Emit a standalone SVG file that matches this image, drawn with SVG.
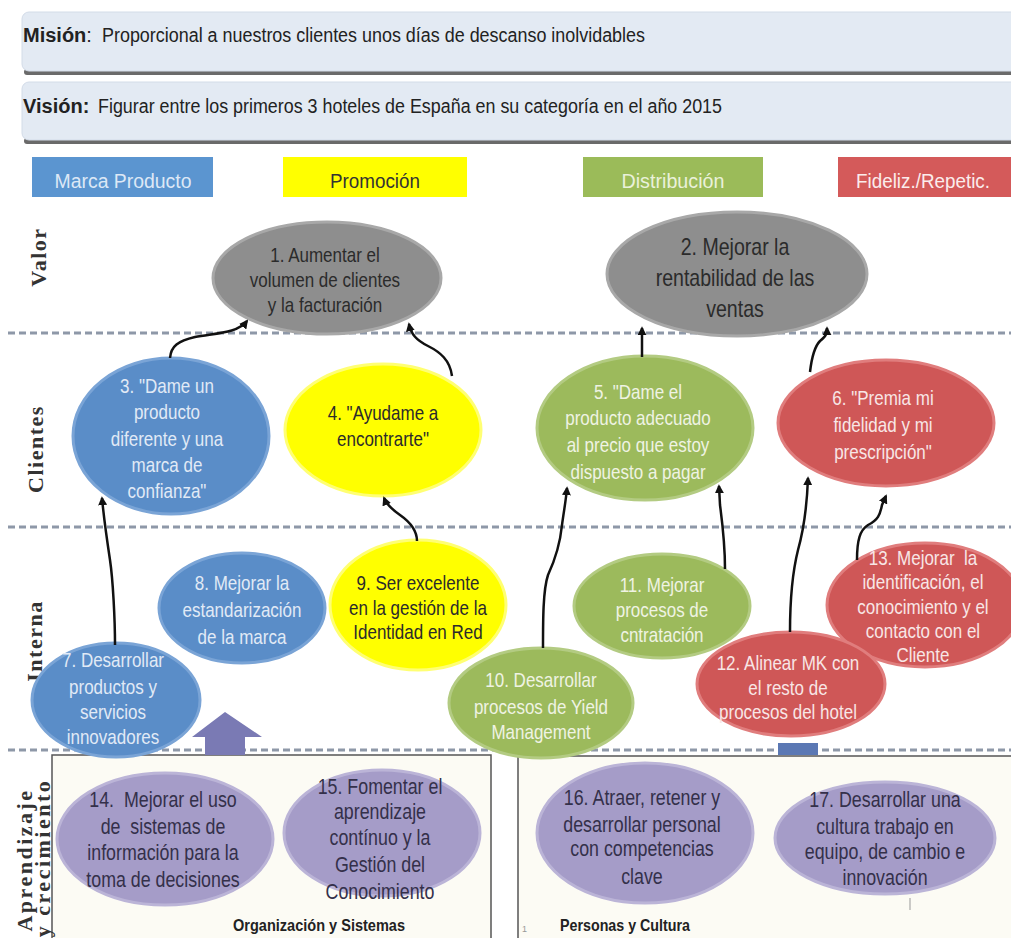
<svg xmlns="http://www.w3.org/2000/svg" width="1011" height="938" viewBox="0 0 1011 938">
  <style>
    .t { font-family: "Liberation Sans", Arial, sans-serif; text-anchor: middle; font-size: 21px; }
    .band { fill: #e3eaf3; stroke: #d3dce8; stroke-width: 1; }
    .shadow { fill: #6a6a6a; }
    .bt { font-family: "Liberation Sans", Arial, sans-serif; font-size: 20px; fill: #222; }
    .hdr { font-family: "Liberation Sans", Arial, sans-serif; font-size: 20px; text-anchor: middle; }
    .lane { font-family: "Liberation Serif", "Times New Roman", serif; font-weight: bold; font-size: 22px; fill: #333; text-anchor: middle; letter-spacing: 1.5px; }
    .sep { stroke: #8e98a8; stroke-width: 3; stroke-dasharray: 7 4; fill: none; }
    .gray { fill: #8e8e8e; stroke: #a8a8a8; stroke-width: 3; }
    .blue { fill: #5a8dc8; stroke: #7aa4d6; stroke-width: 3; }
    .yellow { fill: #ffff00; stroke: #ffff73; stroke-width: 3; }
    .green { fill: #9cba5c; stroke: #b3cb82; stroke-width: 3; }
    .red { fill: #cf5757; stroke: #e07d7d; stroke-width: 3; }
    .purple { fill: #a59cc8; stroke: #bbb4d7; stroke-width: 3; }
    .dark { fill: #2b2b2b; }
    .light { fill: #e1eaf6; }
    .lightg { fill: #eff3e3; }
    .lightr { fill: #f8e6e6; }
    .purp { fill: #34304a; font-size: 22px; }
    .conn { stroke: #111; stroke-width: 2.5; fill: none; marker-end: url(#ah); }
    .box { fill: #fcfbf4; stroke: #555; stroke-width: 1.5; }
    .foot { font-family: "Liberation Sans", Arial, sans-serif; font-weight: bold; font-size: 17px; fill: #222; }
  </style>
  <defs>
    <marker id="ah" viewBox="0 0 10 10" refX="8" refY="5" markerWidth="9" markerHeight="9" markerUnits="userSpaceOnUse" orient="auto">
      <path d="M0,0 L10,5 L0,10 z" fill="#111"/>
    </marker>
  </defs>

  <rect width="1011" height="938" fill="#ffffff"/>

  <!-- mission / vision bands -->
  <g id="mision">
    <rect class="shadow" x="24" y="69" width="1000" height="6" rx="3"/>
    <rect class="band" x="22" y="12" width="1000" height="59" rx="7"/>
    <text class="bt" x="23" y="42"><tspan font-weight="bold">Misión</tspan>:</text>
    <text class="bt" x="102" y="42" textLength="543" lengthAdjust="spacingAndGlyphs">Proporcional a nuestros clientes unos días de descanso inolvidables</text>
  </g>
  <g id="vision">
    <rect class="shadow" x="24" y="138" width="1000" height="6" rx="3"/>
    <rect class="band" x="22" y="82" width="1000" height="58" rx="7"/>
    <text class="bt" x="23" y="113" font-weight="bold">Visión:</text>
    <text class="bt" x="98" y="113" textLength="624" lengthAdjust="spacingAndGlyphs">Figurar entre los primeros 3 hoteles de España en su categoría en el año 2015</text>
  </g>

  <!-- column headers -->
  <g id="h-marca">
    <rect x="32" y="157" width="181" height="40" fill="#5b95d0"/>
    <text class="hdr" x="123" y="188" textLength="137" lengthAdjust="spacingAndGlyphs" fill="#dde8f6">Marca Producto</text>
  </g>
  <g id="h-promo">
    <rect x="283" y="157" width="184" height="40" fill="#ffff00"/>
    <text class="hdr" x="375" y="188" textLength="90" lengthAdjust="spacingAndGlyphs" fill="#333">Promoción</text>
  </g>
  <g id="h-dist">
    <rect x="583" y="157" width="180" height="40" fill="#9bbb59"/>
    <text class="hdr" x="673" y="188" textLength="103" lengthAdjust="spacingAndGlyphs" fill="#eaf1da">Distribución</text>
  </g>
  <g id="h-fideliz">
    <rect x="838" y="157" width="173" height="40" fill="#d45a5a"/>
    <text class="hdr" x="923" y="188" textLength="134" lengthAdjust="spacingAndGlyphs" fill="#fbecec">Fideliz./Repetic.</text>
  </g>

  <!-- lane separators -->
  <g id="separators">
    <line class="sep" x1="8" y1="333" x2="1011" y2="333"/>
    <line class="sep" x1="8" y1="527" x2="1011" y2="527"/>
    <line class="sep" x1="8" y1="750" x2="1011" y2="750"/>
  </g>

  <!-- learning area boxes -->
  <g id="org-box">
    <rect class="box" x="52" y="755" width="439" height="200"/>
    <text class="foot" x="319" y="931" text-anchor="middle" textLength="172" lengthAdjust="spacingAndGlyphs">Organización y Sistemas</text>
  </g>
  <g id="people-box">
    <rect class="box" x="518" y="756" width="510" height="200"/>
    <text class="foot" x="560" y="931" textLength="130" lengthAdjust="spacingAndGlyphs">Personas y Cultura</text>
    <text x="522" y="932" style="font-family:'Liberation Sans',sans-serif;font-size:9px;fill:#999">1</text>
    <line x1="910" y1="898" x2="910" y2="910" stroke="#999" stroke-width="1"/>
  </g>

  <!-- lane labels -->
  <g id="lanes">
    <text class="lane" transform="translate(46,257) rotate(-90)">Valor</text>
    <text class="lane" transform="translate(43,449) rotate(-90)">Clientes</text>
    <text class="lane" transform="translate(42,641) rotate(-90)">Interna</text>
    <text class="lane" transform="translate(32,860) rotate(-90)" style="letter-spacing:2.5px">Aprendizaje</text>
    <text class="lane" transform="translate(50,858) rotate(-90)" style="letter-spacing:2.5px">y crecimiento</text>
  </g>

  <!-- upward block arrow and marker block -->
  <g id="up-arrow">
    <path d="M225,712 L262,737 L245,737 L245,755 L205,755 L205,737 L192,737 Z" fill="#7a7ab4"/>
  </g>
  <g id="mark-block">
    <rect x="778" y="743" width="40" height="12" fill="#5b78b4"/>
  </g>

  <!-- objectives -->
  <g id="n1">
    <ellipse class="gray" cx="327" cy="278" rx="114" ry="56"/>
    <g transform="matrix(0.81 0 0 1 61.75 0)">
      <text class="t dark" x="325" y="262">1. Aumentar el</text>
      <text class="t dark" x="325" y="287">volumen de clientes</text>
      <text class="t dark" x="325" y="312">y la facturación</text>
    </g>
  </g>
  <g id="n2">
    <ellipse class="gray" cx="737" cy="274" rx="130" ry="62"/>
    <g transform="matrix(0.85 0 0 1 110.25 0)">
      <text class="t dark" x="735" y="255" style="font-size:23px">2. Mejorar la</text>
      <text class="t dark" x="735" y="286" style="font-size:23px">rentabilidad de las</text>
      <text class="t dark" x="735" y="317" style="font-size:23px">ventas</text>
    </g>
  </g>
  <g id="n3">
    <ellipse class="blue" cx="171" cy="436" rx="98" ry="78"/>
    <g transform="matrix(0.81 0 0 1 31.73 0)">
      <text class="t light" x="167" y="393">3. "Dame un</text>
      <text class="t light" x="167" y="419">producto</text>
      <text class="t light" x="167" y="446">diferente y una</text>
      <text class="t light" x="167" y="472">marca de</text>
      <text class="t light" x="167" y="498">confianza"</text>
    </g>
  </g>
  <g id="n4">
    <ellipse class="yellow" cx="383" cy="430" rx="98" ry="66"/>
    <g transform="matrix(0.81 0 0 1 72.77 0)">
      <text class="t dark" x="383" y="420">4. "Ayudame a</text>
      <text class="t dark" x="383" y="446">encontrarte"</text>
    </g>
  </g>
  <g id="n5">
    <ellipse class="green" cx="645" cy="428" rx="108" ry="72"/>
    <g transform="matrix(0.81 0 0 1 121.22 0)">
      <text class="t lightg" x="638" y="399">5. "Dame el</text>
      <text class="t lightg" x="638" y="425">producto adecuado</text>
      <text class="t lightg" x="638" y="452">al precio que estoy</text>
      <text class="t lightg" x="638" y="479">dispuesto a pagar</text>
    </g>
  </g>
  <g id="n6">
    <ellipse class="red" cx="886" cy="423" rx="108" ry="63"/>
    <g transform="matrix(0.81 0 0 1 167.77 0)">
      <text class="t lightr" x="883" y="405">6. "Premia mi</text>
      <text class="t lightr" x="883" y="432">fidelidad y mi</text>
      <text class="t lightr" x="883" y="459">prescripción"</text>
    </g>
  </g>
  <g id="n8">
    <ellipse class="blue" cx="242" cy="608" rx="83" ry="55"/>
    <g transform="matrix(0.81 0 0 1 45.98 0)">
      <text class="t light" x="242" y="590">8. Mejorar la</text>
      <text class="t light" x="242" y="617">estandarización</text>
      <text class="t light" x="242" y="644">de la marca</text>
    </g>
  </g>
  <g id="n9">
    <ellipse class="yellow" cx="418" cy="605" rx="88" ry="65"/>
    <g transform="matrix(0.81 0 0 1 79.42 0)">
      <text class="t dark" x="418" y="590">9. Ser excelente</text>
      <text class="t dark" x="418" y="615">en la gestión de la</text>
      <text class="t dark" x="418" y="639">Identidad en Red</text>
    </g>
  </g>
  <g id="n11">
    <ellipse class="green" cx="662" cy="606" rx="88" ry="52"/>
    <g transform="matrix(0.81 0 0 1 125.78 0)">
      <text class="t lightg" x="662" y="592">11. Mejorar</text>
      <text class="t lightg" x="662" y="617">procesos de</text>
      <text class="t lightg" x="662" y="642">cntratación</text>
    </g>
  </g>
  <g id="n13">
    <ellipse class="red" cx="925" cy="605" rx="98" ry="62"/>
    <g transform="matrix(0.81 0 0 1 175.37 0)">
      <text class="t lightr" x="923" y="565" xml:space="preserve">13. Mejorar  la</text>
      <text class="t lightr" x="923" y="589">identificación, el</text>
      <text class="t lightr" x="923" y="614">conocimiento y el</text>
      <text class="t lightr" x="923" y="638">contacto con el</text>
      <text class="t lightr" x="923" y="662">Cliente</text>
    </g>
  </g>
  <g id="n12">
    <ellipse class="red" cx="791" cy="684" rx="94" ry="52"/>
    <g transform="matrix(0.81 0 0 1 149.72 0)">
      <text class="t lightr" x="788" y="670">12. Alinear MK con</text>
      <text class="t lightr" x="788" y="695">el resto de</text>
      <text class="t lightr" x="788" y="719">procesos del hotel</text>
    </g>
  </g>
  <g id="n7">
    <ellipse class="blue" cx="116" cy="700" rx="84" ry="57"/>
    <g transform="matrix(0.81 0 0 1 21.47 0)">
      <text class="t light" x="113" y="667">7. Desarrollar</text>
      <text class="t light" x="113" y="694">productos y</text>
      <text class="t light" x="113" y="719">servicios</text>
      <text class="t light" x="113" y="744">innovadores</text>
    </g>
  </g>
  <g id="n10">
    <ellipse class="green" cx="541" cy="703" rx="92" ry="55"/>
    <g transform="matrix(0.81 0 0 1 102.79 0)">
      <text class="t lightg" x="541" y="687">10. Desarrollar</text>
      <text class="t lightg" x="541" y="714">procesos de Yield</text>
      <text class="t lightg" x="541" y="739">Management</text>
    </g>
  </g>
  <g id="n14">
    <ellipse class="purple" cx="165" cy="839" rx="108" ry="66"/>
    <g transform="matrix(0.81 0 0 1 30.97 0)">
      <text class="t purp" x="163" y="807" xml:space="preserve">14.  Mejorar el uso</text>
      <text class="t purp" x="163" y="834" xml:space="preserve">de  sistemas de</text>
      <text class="t purp" x="163" y="860">información para la</text>
      <text class="t purp" x="163" y="887">toma de decisiones</text>
    </g>
  </g>
  <g id="n15">
    <ellipse class="purple" cx="382" cy="833" rx="98" ry="63"/>
    <g transform="matrix(0.81 0 0 1 72.2 0)">
      <text class="t purp" x="380" y="794">15. Fomentar el</text>
      <text class="t purp" x="380" y="819">aprendizaje</text>
      <text class="t purp" x="380" y="845">contínuo y la</text>
      <text class="t purp" x="380" y="872">Gestión del</text>
      <text class="t purp" x="380" y="899">Conocimiento</text>
    </g>
  </g>
  <g id="n16">
    <ellipse class="purple" cx="645" cy="833" rx="108" ry="70"/>
    <g transform="matrix(0.81 0 0 1 121.98 0)">
      <text class="t purp" x="642" y="805">16. Atraer, retener y</text>
      <text class="t purp" x="642" y="832">desarrollar personal</text>
      <text class="t purp" x="642" y="856">con competencias</text>
      <text class="t purp" x="642" y="884">clave</text>
    </g>
  </g>
  <g id="n17">
    <ellipse class="purple" cx="885" cy="838" rx="110" ry="56"/>
    <g transform="matrix(0.81 0 0 1 168.15 0)">
      <text class="t purp" x="885" y="807">17. Desarrollar una</text>
      <text class="t purp" x="885" y="834">cultura trabajo en</text>
      <text class="t purp" x="885" y="859">equipo, de cambio e</text>
      <text class="t purp" x="885" y="885">innovación</text>
    </g>
  </g>

  <!-- cause-effect links -->
  <g id="connectors">
    <path class="conn" d="M170,358 C171,346 178,341 195,337 C216,333 238,333 247,321"/>
    <path class="conn" d="M452,376 C450,360 440,352 428,346 C416,340 411,334 409,324"/>
    <path class="conn" d="M642,357 L642,328"/>
    <path class="conn" d="M810,372 C812,355 815,346 820,341 C826,336 827,334 827,328"/>
    <path class="conn" d="M115,645 C115,620 113,580 110,560 C107,540 104,520 102,498"/>
    <path class="conn" d="M417,541 C417,530 410,522 400,515 C390,508 386,503 384,498"/>
    <path class="conn" d="M543,648 C543,620 543,590 548,575 C555,560 560,545 562,525 C564,510 566,500 567,488"/>
    <path class="conn" d="M725,569 C725,545 722,520 720,505 L719,486"/>
    <path class="conn" d="M790,632 C790,600 793,570 798,550 C805,525 807,505 808,478"/>
    <path class="conn" d="M857,560 C857,540 860,530 868,525 C878,520 880,515 882,505 L886,496"/>
  </g>
</svg>
